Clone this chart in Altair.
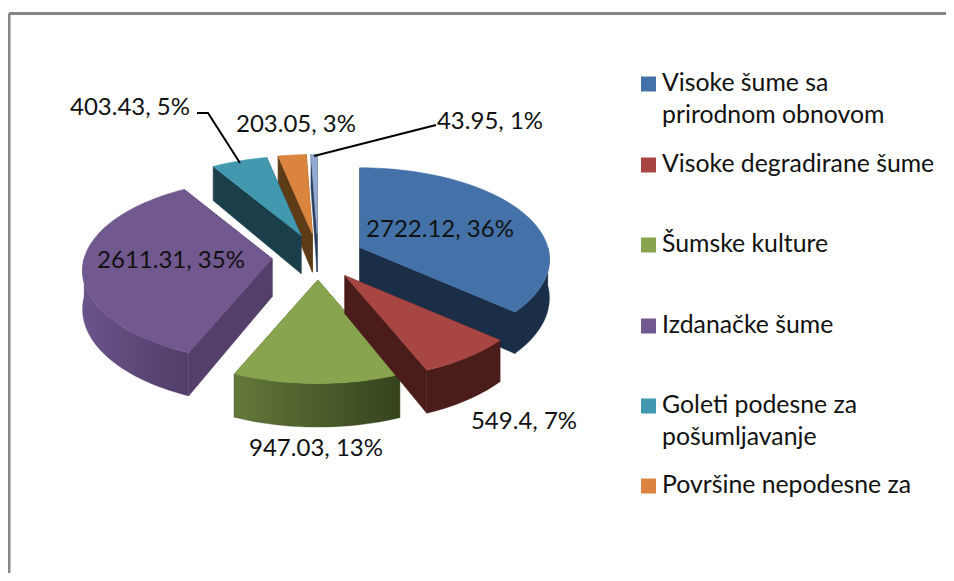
import math
import altair as alt
import pandas as pd

# ---- data ----
VALUES = [2722.12, 549.4, 947.03, 2611.31, 403.43, 203.05, 43.95]
LEGEND_LINES = [["Visoke šume sa", "prirodnom obnovom"], ["Visoke degradirane šume"], ["Šumske kulture"],
                ["Izdanačke šume"], ["Goleti podesne za", "pošumljavanje"], ["Površine nepodesne za"]]
TOP_COLORS = ["#4472a8", "#a84644", "#89a44e", "#71588f", "#4198af", "#db843d", "#93a9d0"]
WALL_COLORS = ["#1b2e47", "#4a1c1a", "#4a5a2a", "#533f69", "#1b3e4b", "#5e3c18", "#2c4060"]
RIM_GRADIENTS = {
    0: ("#1b2e47", "#1b2e47"), 1: ("#4a1c1a", "#4a1c1a"), 2: ("#64783b", "#35431c"),
    3: ("#6a5389", "#513e69"),
}
LABEL_POS = [(440, 230), (524, 422), (316, 449), (171, 261), (130, 108), (296, 125), (490, 122)]
LEGEND_ROWS = [84, 165, 245, 326, 406, 486]
LEGEND_LINE_STEP = 32
LEADERS = [[(197, 113), (208, 113), (240, 163)], [(314, 156), (436, 125)]]

# ---- pie geometry (pixel space of the x/y scales) ----
W, H = 946, 573
CX, CY, EXPLODE, EXPLODE_Y = 318, 257, 46, 0.5
RX, RY, PERSP, DEPTH = 188, 90, 0.13, 38
FONT, FS, FS_LEG = "Lato", 24, 24.8

xs = alt.Scale(domain=[8, W], range=[0, W - 8])
ys = alt.Scale(domain=[8, H], range=[0, H - 8])
X = alt.X("x:Q", scale=xs, axis=None)
Y = alt.Y("y:Q", scale=ys, axis=None)

def rim(t):
    r = math.radians(t)
    s = 1 / (1 + PERSP * math.cos(r))
    return RX * math.sin(r) * s, -RY * math.cos(r) * s, DEPTH * s

def poly(points, fill):
    df = pd.DataFrame([{"x": p[0], "y": p[1], "i": i} for i, p in enumerate(points)])
    return alt.Chart(df).mark_line(
        fill=fill, stroke=fill, strokeWidth=0.6, interpolate="linear-closed"
    ).encode(x=X, y=Y, order=alt.Order("i:Q"))

total = sum(VALUES)
spans, cum = [], 0.0
for v in VALUES:
    spans.append((cum * 360, (cum + v / total) * 360))
    cum += v / total

def arc(a, b):
    n = max(2, int((b - a) / 2) + 1)
    return [a + (b - a) * k / n for k in range(n + 1)]

layers = []
# border
for seg in [[(9, 13.5), (W, 13.5)], [(9, 13.5), (9, H)]]:
    df = pd.DataFrame([{"x": p[0], "y": p[1], "i": i} for i, p in enumerate(seg)])
    layers.append(alt.Chart(df).mark_line(color="#868686", strokeWidth=3).encode(x=X, y=Y, order=alt.Order("i:Q")))

# slices, far ones first
for idx in [6, 5, 4, 0, 3, 2, 1]:
    a, b = spans[idx]
    mid = math.radians((a + b) / 2)
    ax = CX + EXPLODE * math.sin(mid)
    ay = CY - EXPLODE * EXPLODE_Y * math.cos(mid)
    top = lambda t: (ax + rim(t)[0], ay + rim(t)[1])
    low = lambda t: (ax + rim(t)[0], ay + rim(t)[1] + rim(t)[2])
    apex_low = (ax, ay + DEPTH)
    wall = WALL_COLORS[idx]
    # straight walls
    for t in (a, b):
        layers.append(poly([(ax, ay), top(t), low(t), apex_low], wall))
    # curved rim, only its front part
    fa, fb = max(a, 90), min(b, 270)
    if fa < fb:
        ts = arc(fa, fb)
        pts = [top(t) for t in ts] + [low(t) for t in reversed(ts)]
        c0, c1 = RIM_GRADIENTS[idx]
        grad = alt.Gradient(gradient="linear", x1=0, x2=1, y1=0, y2=0,
                            stops=[alt.GradientStop(color=c0, offset=0), alt.GradientStop(color=c1, offset=1)])
        df = pd.DataFrame([{"x": p[0], "y": p[1], "i": i} for i, p in enumerate(pts)])
        layers.append(alt.Chart(df).mark_line(fill=grad, stroke=c1, strokeWidth=0.3, interpolate="linear-closed")
                      .encode(x=X, y=Y, order=alt.Order("i:Q")))
    # top face
    layers.append(poly([(ax, ay)] + [top(t) for t in arc(a, b)], TOP_COLORS[idx]))

# leader lines
for seg in LEADERS:
    df = pd.DataFrame([{"x": p[0], "y": p[1], "i": i} for i, p in enumerate(seg)])
    layers.append(alt.Chart(df).mark_line(color="black", strokeWidth=2).encode(x=X, y=Y, order=alt.Order("i:Q")))

# data labels
lab = pd.DataFrame([{"x": p[0], "y": p[1], "t": f"{v}, {round(v / total * 100)}%"} for p, v in zip(LABEL_POS, VALUES)])
layers.append(alt.Chart(lab).mark_text(font=FONT, fontSize=FS, color="#111111", align="center", baseline="middle")
              .encode(x=X, y=Y, text="t:N"))

# legend
sq = pd.DataFrame([{"x": 648.5, "y": y, "c": c} for y, c in zip(LEGEND_ROWS, TOP_COLORS)])
layers.append(alt.Chart(sq).mark_square(size=225, opacity=1, strokeWidth=0)
              .encode(x=X, y=Y, color=alt.Color("c:N", scale=None)))
leg = pd.DataFrame([{"x": 662, "y": y + k * LEGEND_LINE_STEP, "t": line}
                    for y, lines in zip(LEGEND_ROWS, LEGEND_LINES) for k, line in enumerate(lines)])
layers.append(alt.Chart(leg).mark_text(font=FONT, fontSize=FS_LEG, color="#111111", align="left", baseline="middle")
              .encode(x=X, y=Y, text="t:N"))

chart = alt.layer(*layers).properties(
    width=W - 8, height=H - 8, padding=0, autosize=alt.AutoSizeParams(type="none"), background="white"
).configure_view(stroke=None)
chart.save("out.html", embed_options={"renderer": "svg", "actions": False})
